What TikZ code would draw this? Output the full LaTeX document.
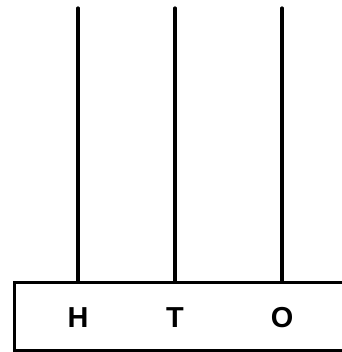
\documentclass[tikz,border=0pt]{standalone}
\usepackage{fontspec}
\setmainfont{Liberation Sans}
\usetikzlibrary{positioning,calc}
\tikzset{
  rod/.style={line width=3.2bp, line cap=round},
  frame/.style={draw, line width=3.2bp, rectangle, inner sep=0pt, minimum width=345bp, minimum height=68bp},
  digit/.style={font=\fontsize{29}{29}\selectfont\bfseries, inner sep=0pt},
}
\begin{document}
\begin{tikzpicture}[x=1bp, y=-1bp]
  \useasboundingbox (0,0) rectangle (342,352);
  \node[frame, anchor=north west] (base) at (13,281) {};
  \foreach \nm/\xx in {H/78, T/175, O/282}{%
    \coordinate (top\nm) at (\xx,8);
    \node[digit] (lab\nm) at (\xx,318) {\nm};
    \draw[rod] (top\nm) -- (top\nm |- base.north);}
\end{tikzpicture}
\end{document}
